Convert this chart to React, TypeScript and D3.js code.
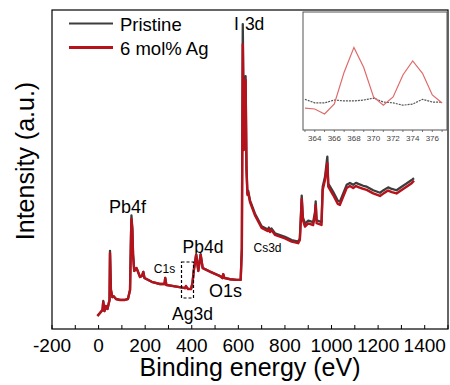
import React from "react";
import * as d3 from "d3";

// Main survey spectrum: binding energy (eV) and intensities (a.u.)
const bindingEnergy = [-5, 6, 17, 20, 25, 32, 38, 47, 49, 53, 59, 64, 75, 92, 113, 126, 135, 139, 141, 145, 148, 153, 163, 178, 186, 192, 197, 228, 264, 283, 286, 291, 341, 371, 375, 384, 397, 403, 409, 419, 428, 438, 447, 478, 521, 532, 535, 540, 564, 593, 610, 615, 619, 624, 631, 635, 639, 642, 650, 671, 700, 727, 731, 736, 742, 757, 800, 829, 857, 864, 869, 872, 877, 886, 900, 921, 929, 932, 936, 957, 962, 972, 982, 986, 1007, 1027, 1036, 1065, 1079, 1093, 1105, 1115, 1136, 1151, 1179, 1208, 1225, 1243, 1259, 1279, 1301, 1322, 1344, 1354];
const agIntensity = [4.1, 5.0, 6.0, 8.5, 5.6, 7.2, 6.3, 9.1, 23.8, 12.2, 10.0, 10.3, 9.4, 9.1, 9.1, 9.4, 12.2, 27.9, 34.5, 31.0, 23.2, 18.2, 19.1, 16.3, 16.6, 17.9, 16.0, 14.8, 14.1, 14.1, 16.0, 13.8, 13.2, 12.8, 13.5, 12.5, 12.5, 14.4, 18.5, 23.2, 18.2, 23.2, 19.1, 18.0, 16.6, 16.0, 17.2, 16.0, 15.6, 15.4, 15.4, 24.8, 89.3, 56.1, 78.1, 49.8, 42.0, 42.9, 39.8, 35.7, 31.7, 30.7, 31.3, 30.4, 31.0, 29.5, 28.4, 27.4, 26.9, 27.9, 35.7, 40.8, 34.2, 32.1, 33.1, 32.6, 35.7, 38.9, 33.2, 32.6, 43.6, 46.7, 52.0, 44.6, 42.0, 39.2, 38.9, 44.2, 44.8, 44.2, 44.8, 44.5, 43.9, 43.6, 42.5, 41.7, 42.6, 43.4, 42.9, 42.5, 43.6, 44.6, 45.7, 46.5];
const pristineIntensity = [4.1, 5.0, 6.0, 8.8, 5.6, 7.2, 6.3, 9.1, 24.5, 12.2, 10.0, 10.3, 9.4, 9.1, 9.1, 9.4, 12.2, 29.0, 35.6, 31.5, 23.5, 18.2, 19.1, 16.3, 16.6, 17.9, 16.0, 14.8, 14.1, 14.1, 16.0, 13.8, 13.2, 12.8, 13.2, 12.6, 12.6, 14.4, 18.5, 23.5, 18.2, 23.5, 19.1, 18.0, 16.6, 16.0, 17.2, 16.0, 15.6, 15.4, 15.4, 25.5, 95.6, 57.5, 79.3, 50.5, 42.5, 43.4, 40.3, 36.2, 32.2, 31.2, 31.8, 30.9, 31.5, 30.0, 28.9, 27.9, 27.4, 28.4, 36.3, 41.8, 35.0, 33.0, 34.0, 33.5, 36.6, 40.0, 34.1, 33.5, 44.6, 47.7, 54.0, 45.6, 43.0, 40.2, 39.9, 45.2, 45.8, 45.2, 45.8, 45.5, 44.9, 44.6, 43.5, 42.7, 43.6, 44.4, 43.9, 43.5, 44.6, 45.6, 46.7, 47.3];

// Inset: Ag 3d region
const insetEnergy = [363, 364, 365, 366, 367, 368, 369, 370, 371, 372, 373, 374, 375, 376, 377];
const insetAg = [18.6, 17.8, 13.6, 22.0, 49.0, 70.0, 53.0, 28.0, 21.0, 28.0, 46.6, 58.5, 48.0, 29.7, 22.9];
const insetPristine = [26.0, 23.0, 23.0, 25.4, 24.6, 24.6, 25.4, 27.0, 23.7, 23.0, 21.0, 22.0, 26.0, 23.7, 23.7];

const xTickLabels = [-200, 0, 200, 400, 600, 800, 1000, 1200, 1400];
const xMinorTicks = d3.range(-200, 1501, 100);
const insetTickLabels = [364, 366, 368, 370, 372, 374, 376];
const insetMinorTicks = d3.range(363, 378, 1);

const seriesNames = ["Pristine", "6 mol% Ag"];

const FONT = "'Liberation Sans', Arial, sans-serif";
const RED = "#b5121b";
const GRAY = "#3d3d3d";

export default function App() {
  const x = d3.scaleLinear().domain([-200, 1500]).range([52, 448]);
  const y = d3.scaleLinear().domain([0, 100]).range([329, 10]);
  const xi = d3.scaleLinear().domain([362.8, 377.5]).range([303, 447]);
  const yi = d3.scaleLinear().domain([0, 100]).range([130, 12]);

  const line = d3
    .line<number>()
    .x((_, i) => x(bindingEnergy[i]))
    .y((d) => y(d));
  const iline = d3
    .line<number>()
    .x((_, i) => xi(insetEnergy[i]))
    .y((d) => yi(d));

  return (
    <div style={{ position: "absolute", left: 0, top: 0 }}>
      <svg width={450} height={385} style={{ display: "block", background: "#fff" }} fontFamily={FONT}>
        {/* spectra */}
        <path d={line(pristineIntensity) || ""} fill="none" stroke={GRAY} strokeWidth={2.3} strokeLinejoin="round" />
        <path d={line(agIntensity) || ""} fill="none" stroke={RED} strokeWidth={2.4} strokeLinejoin="round" />

        {/* frame */}
        <rect x={52} y={10} width={396} height={319} fill="none" stroke="#000" strokeWidth={1.2} />

        {/* x ticks */}
        {xMinorTicks.map((t) => (
          <line key={"t" + t} x1={x(t)} x2={x(t)} y1={329} y2={325} stroke="#000" strokeWidth={1} />
        ))}
        {xTickLabels.map((t) => (
          <text key={"l" + t} x={x(t)} y={352} textAnchor="middle" fontSize={19} fill="#000">
            {t}
          </text>
        ))}
        <text x={250} y={376} textAnchor="middle" fontSize={25} fill="#000">
          Binding energy (eV)
        </text>
        <text transform="translate(34,161) rotate(-90)" textAnchor="middle" fontSize={25} fill="#000">
          Intensity (a.u.)
        </text>

        {/* legend */}
        <line x1={69} x2={113} y1={23.5} y2={23.5} stroke={GRAY} strokeWidth={2} />
        <text x={120} y={30.5} fontSize={18.5} fill="#000">{seriesNames[0]}</text>
        <line x1={69} x2={113} y1={47.5} y2={47.5} stroke={RED} strokeWidth={3} />
        <text x={120} y={55} fontSize={18.5} fill="#000">{seriesNames[1]}</text>

        {/* peak labels */}
        <text x={127.5} y={213} textAnchor="middle" fontSize={18} fill="#000">Pb4f</text>
        <text x={234} y={30} fontSize={17.5} fill="#000">I<tspan dx={6}>3d</tspan></text>
        <text x={203} y={253} textAnchor="middle" fontSize={17.5} fill="#000">Pb4d</text>
        <text x={225.5} y={297} textAnchor="middle" fontSize={18} fill="#000">O1s</text>
        <text x={192.5} y={320} textAnchor="middle" fontSize={17.5} fill="#000">Ag3d</text>
        <text x={164.5} y={273} textAnchor="middle" fontSize={12} fill="#000">C1s</text>
        <text x={267.5} y={252} textAnchor="middle" fontSize={12} fill="#000">Cs3d</text>

        {/* Ag3d dashed box */}
        <rect x={181.5} y={262} width={12} height={36} fill="none" stroke="#000" strokeWidth={1.2} strokeDasharray="3,2" />

        {/* inset */}
        <rect x={303} y={12} width={144} height={118} fill="#fff" stroke="#555" strokeWidth={1} />
        <path d={iline(insetPristine) || ""} fill="none" stroke="#555" strokeWidth={1.2} strokeDasharray="2,1" />
        <path d={iline(insetAg) || ""} fill="none" stroke="#e06a6a" strokeWidth={1.2} />
        {insetMinorTicks.map((t) => (
          <line key={"it" + t} x1={xi(t)} x2={xi(t)} y1={130} y2={132} stroke="#555" strokeWidth={0.8} />
        ))}
        {insetTickLabels.map((t) => (
          <text key={"il" + t} x={xi(t)} y={141} textAnchor="middle" fontSize={8} fill="#444">
            {t}
          </text>
        ))}
      </svg>
    </div>
  );
}
